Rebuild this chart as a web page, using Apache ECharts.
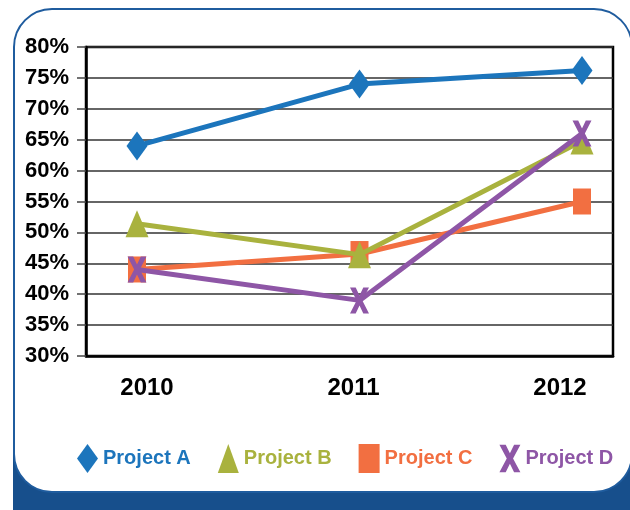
<!DOCTYPE html>
<html><head><meta charset="utf-8">
<script src="https://cdn.jsdelivr.net/npm/echarts@6/dist/echarts.min.js"></script>
<style>html,body{margin:0;padding:0;background:#fff}#c{width:630px;height:510px}</style>
</head><body><div id="c"></div>
<script>
const categories = ['2010', '2011', '2012'];
const projectA = [64, 74, 76.2];
const projectB = [51.4, 46.4, 64.8];
const projectC = [44, 46.5, 55];
const projectD = [44, 39, 66];
const seriesNames = ['Project A', 'Project B', 'Project C', 'Project D'];
const yTicks = { min: 30, max: 80, interval: 5 };

const colors = ['#1c75bc', '#a9b23e', '#f26f41', '#8e56a6'];
const xPath = 'path://M0,0 L6,0 L10,8 L14,0 L20,0 L13,13 L20,26 L14,26 L10,18 L6,26 L0,26 L7,13 Z';
const sans = '"Liberation Sans",Arial,sans-serif';

const chart = echarts.init(document.getElementById('c'), null, {renderer: 'canvas'});
const option = {
  animation: false,
  graphic: [
    { type: 'rect', z: -10, shape: { x: 13, y: 30, width: 620, height: 520, r: 40 }, style: { fill: '#174f8c' } },
    { type: 'rect', z: -9, shape: { x: 14, y: 9, width: 618, height: 483, r: 38 }, style: { fill: '#ffffff', stroke: '#1f5c9e', lineWidth: 2 } }
  ],
  grid: [
    { left: 86, right: 17, top: 47, bottom: 154, show: true, borderColor: '#000', borderWidth: 2.5, backgroundColor: 'transparent' },
    { left: 137, right: 48, top: 47, bottom: 154 },
    { left: 147, right: 70, top: 47, bottom: 154 }
  ],
  xAxis: [
    { gridIndex: 0, type: 'category', data: [''], axisLine: { show: true, lineStyle: { color: '#000', width: 2.5 } }, axisTick: { show: false }, axisLabel: { show: false } },
    { gridIndex: 1, type: 'category', data: categories, boundaryGap: false, show: false },
    { gridIndex: 2, type: 'category', data: categories, boundaryGap: false, axisLine: { show: false }, axisTick: { show: false },
      axisLabel: { interval: 0, margin: 20, color: '#000', fontFamily: sans, fontWeight: 'bold', fontSize: 24 } }
  ],
  yAxis: [
    { gridIndex: 0, type: 'value', min: yTicks.min, max: yTicks.max, interval: yTicks.interval,
      axisLine: { show: true, lineStyle: { color: '#000', width: 2.5 } },
      axisTick: { show: true, length: 9, lineStyle: { color: '#444', width: 1.5 } },
      axisLabel: { formatter: '{value}%', margin: 17, color: '#000', fontFamily: sans, fontWeight: 'bold', fontSize: 22 },
      splitLine: { show: true, lineStyle: { color: '#333', width: 1.5 } } },
    { gridIndex: 1, type: 'value', min: yTicks.min, max: yTicks.max, show: false, splitLine: { show: false } },
    { gridIndex: 2, type: 'value', min: yTicks.min, max: yTicks.max, show: false, splitLine: { show: false } }
  ],
  legend: {
    left: 72, top: 439, itemWidth: 21, itemHeight: 29, itemGap: 27,
    textStyle: { fontFamily: sans, fontWeight: 'bold', fontSize: 20 },
    data: [
      { name: seriesNames[0], icon: 'diamond', textStyle: { color: colors[0] } },
      { name: seriesNames[1], icon: 'triangle', textStyle: { color: colors[1] } },
      { name: seriesNames[2], icon: 'rect', textStyle: { color: colors[2] } },
      { name: seriesNames[3], icon: xPath, textStyle: { color: colors[3] } }
    ]
  },
  series: [
    { name: seriesNames[0], type: 'line', xAxisIndex: 1, yAxisIndex: 1, data: projectA, z: 5,
      symbol: 'diamond', symbolSize: [21, 29], showAllSymbol: true,
      lineStyle: { color: colors[0], width: 5 }, itemStyle: { color: colors[0] } },
    { name: seriesNames[1], type: 'line', xAxisIndex: 1, yAxisIndex: 1, data: projectB, z: 3,
      symbol: 'triangle', symbolSize: [23, 27],
      lineStyle: { color: colors[1], width: 5 }, itemStyle: { color: colors[1] } },
    { name: seriesNames[2], type: 'line', xAxisIndex: 1, yAxisIndex: 1, data: projectC, z: 2,
      symbol: 'rect', symbolSize: [18, 26],
      lineStyle: { color: colors[2], width: 5 }, itemStyle: { color: colors[2] } },
    { name: seriesNames[3], type: 'line', xAxisIndex: 1, yAxisIndex: 1, data: projectD, z: 4,
      symbol: xPath, symbolSize: [19, 26],
      lineStyle: { color: colors[3], width: 5 }, itemStyle: { color: colors[3] } }
  ]
};
chart.setOption(option);
</script>
</body></html>
